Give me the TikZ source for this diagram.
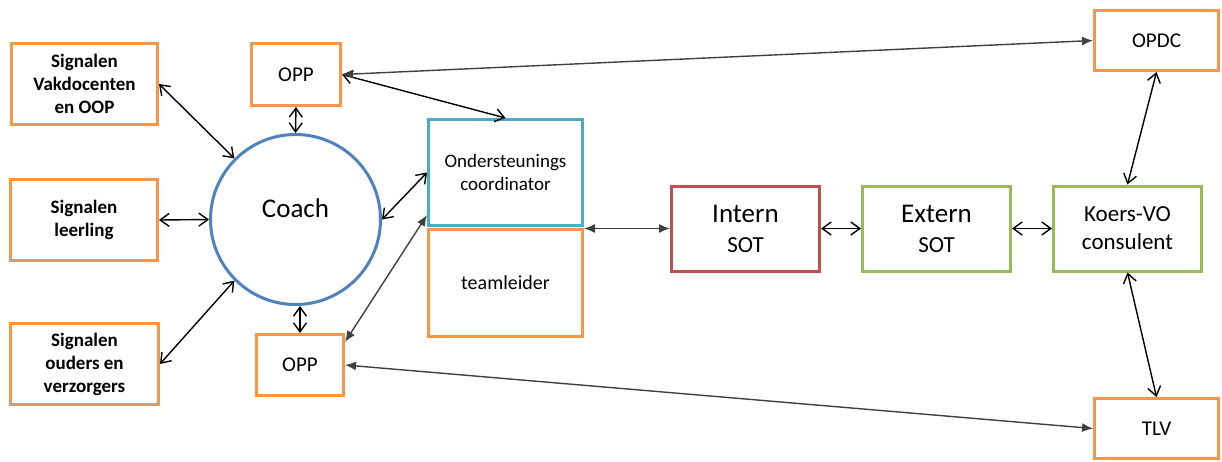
\documentclass[tikz,border=0pt]{standalone}
\usepackage{fontspec}
\setmainfont{Carlito}
\usetikzlibrary{arrows.meta,positioning}
\definecolor{boxorange}{HTML}{F79646}
\definecolor{coachblue}{HTML}{4F81BD}
\definecolor{ondblue}{HTML}{4BACC6}
\definecolor{sotred}{HTML}{C0504D}
\definecolor{sotgreen}{HTML}{9BBB59}
\definecolor{arrgray}{HTML}{404040}

\begin{document}
\begin{tikzpicture}[
    x=1pt, y=-1pt,
    box/.style={draw=boxorange, line width=3pt, align=center, inner sep=0pt, font=\fontsize{19}{23}\selectfont},
    sig/.style={box, minimum width=147pt, minimum height=81pt, font=\bfseries\fontsize{19}{23}\selectfont},
    small/.style={box, minimum width=124pt, minimum height=60pt, font=\fontsize{21}{25}\selectfont},
    sot/.style={box, minimum width=148pt, minimum height=85pt, font=\fontsize{23}{30}\selectfont},
    arr/.style={{Straight Barb[length=9pt,width=13pt]}-{Straight Barb[length=9pt,width=13pt]}, line width=1.4pt},
    garr/.style={{Latex[length=11pt,width=9pt]}-{Latex[length=11pt,width=9pt]}, line width=1.4pt, draw=arrgray, fill=arrgray}
  ]
    \useasboundingbox (0,0) rectangle (1222,461);
    \node[sig, minimum width=146pt] (vak) at (84.5,84) {Signalen\\Vakdocenten\\en OOP};
    \node[sig] (leer) at (84,220) {Signalen\\leerling};
    \node[sig, minimum width=148pt] (ouders) at (84.5,364) {Signalen\\ouders en\\verzorgers};
    \node[circle, draw=coachblue, line width=3pt, minimum size=170pt, inner sep=0pt] (coach) at (295.5,219.5) {};
    \node[font=\fontsize{27}{32}\selectfont] (coachtxt) at ([yshift=11pt]coach.center) {Coach};
    \node[small, minimum width=89pt, minimum height=62pt] (opptop) at (296,74.5) {OPP};
    \node[small, minimum width=87pt, minimum height=61pt] (oppbot) at (300,365) {OPP};
    \node[box, draw=ondblue, minimum width=154pt, minimum height=106pt] (ond) at (505.5,172.5) {Ondersteunings\\coordinator};
    \node[box, minimum width=154pt, minimum height=107pt, font=\fontsize{20}{24}\selectfont, below=1pt of ond] (team) {teamleider};
    \node[sot, draw=sotred] (intern) at (745.5,228.5) {{\fontsize{27}{30}\selectfont Intern}\\SOT};
    \node[sot, draw=sotgreen, right=40pt of intern] (extern) {{\fontsize{27}{30}\selectfont Extern}\\SOT};
    \node[sot, draw=sotgreen, font=\fontsize{23}{28}\selectfont, right=40pt of extern] (koers) {Koers-VO\\consulent};
    \node[small] (opdc) at (1156.5,40.5) {OPDC};
    \node[small] (tlv) at (1156.5,428.5) {TLV};
    \draw[arr] (vak.east) -- (coach.135);
    \draw[arr] (leer.east) -- (coach.west);
    \draw[arr] (ouders.east) -- (coach.225);
    \draw[arr] (opptop.south) -- (coach.north);
    \draw[arr] (oppbot.north |- coach.south) -- (oppbot.north);
    \draw[arr] (opptop.east) -- (ond.north);
    \draw[arr] (coach.east) -- (ond.west);
    \draw[garr] (opptop.east) -- (opdc.west);
    \draw[garr] ([yshift=-9pt]oppbot.north east) -- ([yshift=12pt]ond.south west);
    \draw[garr] (ond.south east |- intern.west) -- (intern.west);
    \draw[arr] (intern) -- (extern);
    \draw[arr] (extern) -- (koers);
    \draw[arr] (koers.north) -- (opdc.south);
    \draw[arr] (koers.south) -- (tlv.north);
    \draw[garr] (oppbot.east) -- (tlv.west);
  \end{tikzpicture}
\end{document}
